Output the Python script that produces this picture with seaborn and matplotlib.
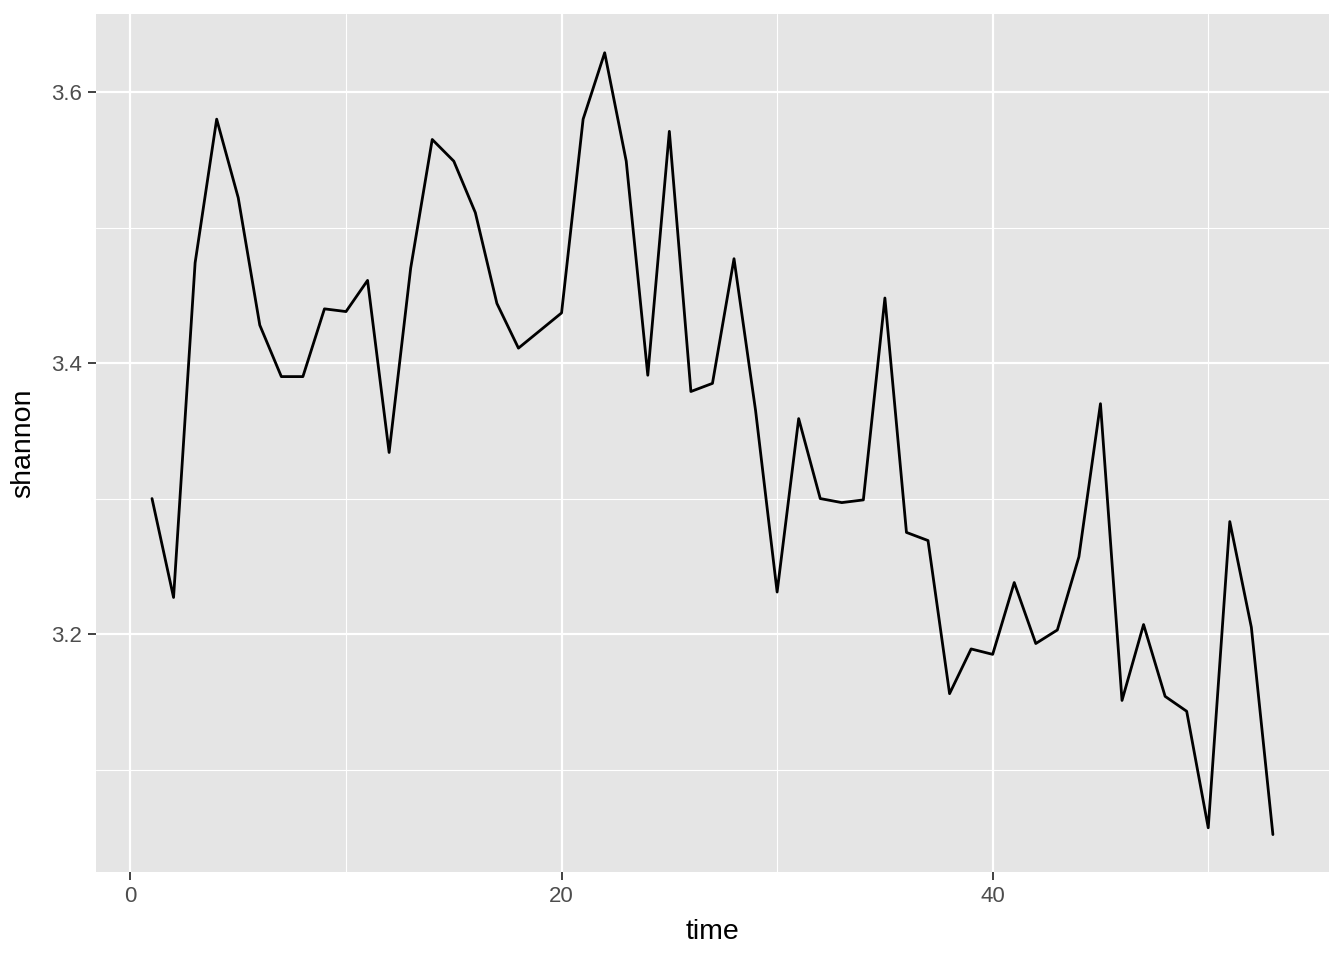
import pandas as pd
import matplotlib.pyplot as plt
import seaborn as sns
from matplotlib.ticker import MultipleLocator

# time series values
time = list(range(1, 54))
shannon = [3.300, 3.227, 3.474, 3.580, 3.522, 3.428, 3.390, 3.390, 3.440, 3.438,
           3.461, 3.334, 3.470, 3.565, 3.549, 3.511, 3.444, 3.411, 3.424, 3.437,
           3.580, 3.629, 3.549, 3.391, 3.571, 3.379, 3.385, 3.477, 3.365, 3.231,
           3.359, 3.300, 3.297, 3.299, 3.448, 3.275, 3.269, 3.156, 3.189, 3.185,
           3.238, 3.193, 3.203, 3.257, 3.370, 3.151, 3.207, 3.154, 3.143, 3.057,
           3.283, 3.205, 3.052]

df = pd.DataFrame({'time': time, 'shannon': shannon})

sns.set_theme(style='darkgrid', rc={'axes.facecolor': '#E5E5E5'})
plt.rcParams['font.family'] = ['Liberation Sans', 'DejaVu Sans']

fig = plt.figure(figsize=(13.44, 9.6), dpi=100)
ax = fig.add_axes([0.0714, 0.0917, 0.9174, 0.8937])

sns.lineplot(data=df, x='time', y='shannon', color='black', linewidth=2.0, ax=ax)

ax.set_xlim(-1.6, 55.6)
ax.set_ylim(3.0244, 3.6576)
ax.xaxis.set_major_locator(MultipleLocator(20))
ax.xaxis.set_minor_locator(MultipleLocator(10))
ax.yaxis.set_major_locator(MultipleLocator(0.2))
ax.yaxis.set_minor_locator(MultipleLocator(0.1))
ax.set_yticks([3.2, 3.4, 3.6])
ax.set_yticklabels(['3.2', '3.4', '3.6'])
ax.grid(which='major', color='white', linewidth=1.6)
ax.grid(which='minor', color='white', linewidth=0.8)
ax.set_axisbelow(True)
for s in ax.spines.values():
    s.set_visible(False)

ax.tick_params(axis='both', which='major', length=6, width=1.3, color='#333333',
               labelsize=16, labelcolor='#4D4D4D', pad=4, left=True, bottom=True)
ax.tick_params(axis='both', which='minor', length=0)
ax.set_xlabel('time', fontsize=20.5, color='black', labelpad=9)
ax.set_ylabel('shannon', fontsize=20.5, color='black', labelpad=11)

fig.savefig('out.png', dpi=100, facecolor='white')
